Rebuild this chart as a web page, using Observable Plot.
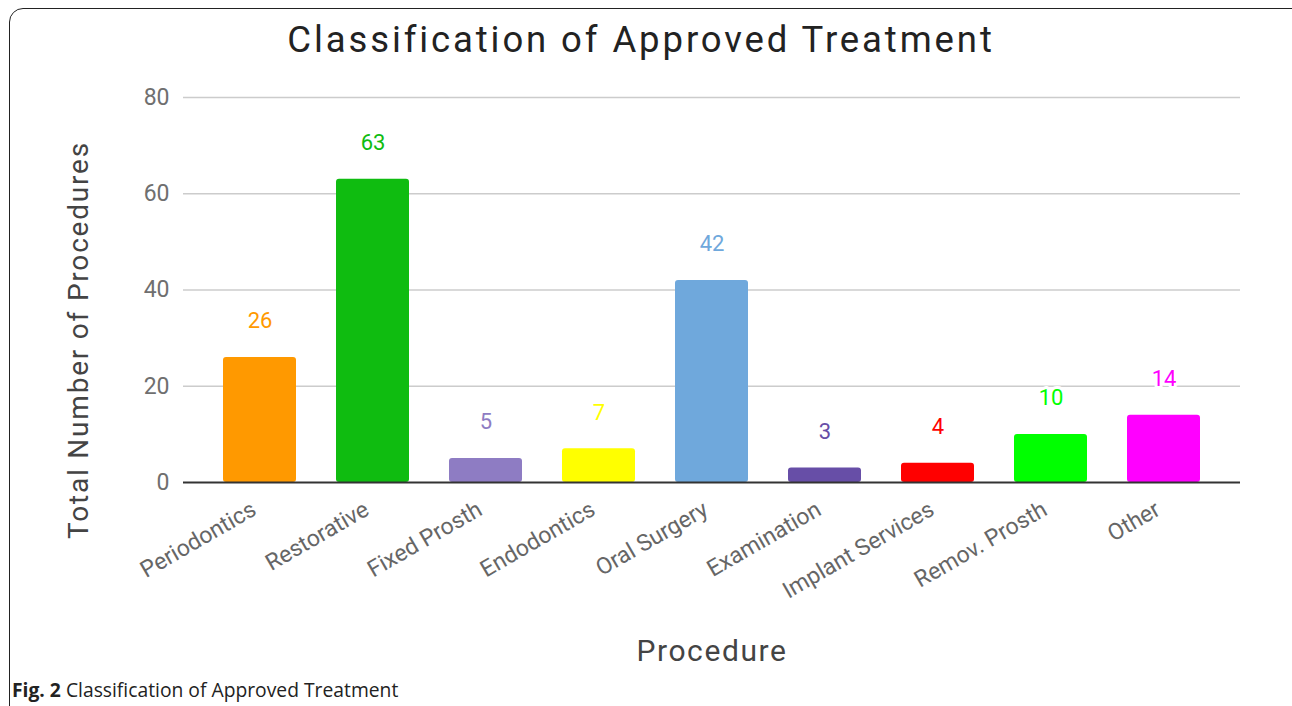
<!DOCTYPE html>
<html><head><meta charset="utf-8">
<script src="https://cdn.jsdelivr.net/npm/d3@7"></script>
<script src="https://cdn.jsdelivr.net/npm/@observablehq/plot@0.6"></script>
<style>
body{margin:0;background:#fff;width:1292px;height:706px;overflow:hidden;position:relative;font-family:Roboto,sans-serif}
#frame{position:absolute;left:9px;top:8px;width:1300px;height:730px;border:1.5px solid #222;border-radius:14px;box-sizing:border-box}
#title{position:absolute;left:0;top:18px;width:1282px;text-align:center;font-size:36.5px;letter-spacing:2.9px;color:#222;font-family:Roboto}
#chart{position:absolute;left:0;top:70px}
#caption{position:absolute;left:12px;top:676px;font-family:"Open Sans";font-size:19.3px;color:#222}
</style></head>
<body>
<div id="frame"></div>
<div id="title">Classification of Approved Treatment</div>
<div id="chart"></div>
<div id="caption"><b>Fig. 2</b> Classification of Approved Treatment</div>
<script>
const categories = ["Periodontics","Restorative","Fixed Prosth","Endodontics","Oral Surgery","Examination","Implant Services","Remov. Prosth","Other"];
const values = [26,63,5,7,42,3,4,10,14];
const colors = ["#FF9900","#0FBC10","#8E7CC3","#FFFF00","#6FA8DC","#674EA7","#FF0000","#00FF00","#FF00FF"];
const yTicks = [0,20,40,60,80];
const xLabel = "Procedure";
const yLabel = "Total Number of Procedures";

const data = categories.map((c,i)=>({category:c, value:values[i], color:colors[i]}));

const chart = Plot.plot({
  width:1292, height:600,
  marginLeft:183, marginRight:52, marginTop:27, marginBottom:188,
  style:{fontFamily:"Roboto", background:"transparent", overflow:"visible"},
  x:{domain:categories, padding:0.35, label:null},
  y:{domain:[0,80], label:null},
  marks:[
    Plot.gridY(yTicks.slice(1), {stroke:"#cccccc", strokeOpacity:1, strokeWidth:1.5}),
    Plot.axisY(yTicks, {tickSize:0, tickPadding:14, fontSize:23, fill:"#6f6f6f", label:null}),
    Plot.axisX({tickSize:0, tickRotate:-30, tickPadding:25, fontSize:23, fill:"#666", label:null, dx:-6}),
    Plot.barY(data, {x:"category", y:"value", fill:"color", rx:3}),
    Plot.ruleY([0], {stroke:"#333", strokeWidth:2}),
    Plot.text(data, {x:"category", y:"value", text:d=>String(d.value), fill:"color", dy:-36, fontSize:22, stroke:"white", strokeWidth:6, paintOrder:"stroke"}),
    Plot.text([xLabel], {frameAnchor:"bottom", lineAnchor:"middle", dy:169, fontSize:30, fill:"#444"}),
    Plot.text([yLabel], {frameAnchor:"left", textAnchor:"middle", lineAnchor:"middle", dx:-104, dy:50, rotate:-90, fontSize:28, fill:"#444"})
  ]
});
document.getElementById("chart").appendChild(chart);
d3.select(chart).selectAll("text").each(function(){
  const t = this.textContent;
  if (t === xLabel) d3.select(this).attr("letter-spacing", 1.6);
  if (t === yLabel) d3.select(this).attr("letter-spacing", 1.8);
});
</script>
</body></html>
